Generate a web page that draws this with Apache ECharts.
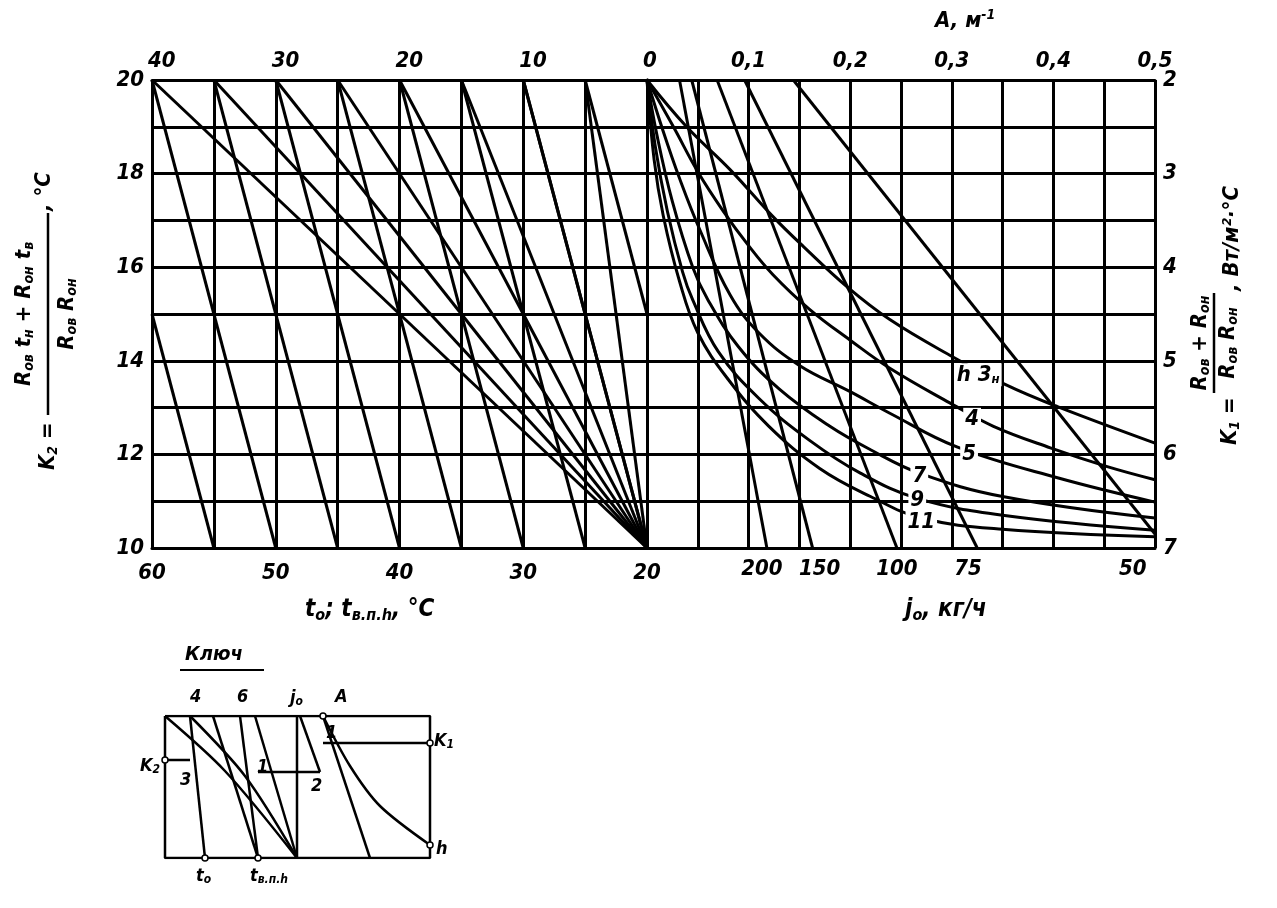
<!DOCTYPE html>
<html><head><meta charset="utf-8">
<script src="https://cdn.jsdelivr.net/npm/echarts@6/dist/echarts.min.js"></script>
<style>html,body{margin:0;padding:0;background:#fff}#c{width:1277px;height:908px}</style>
</head><body><div id="c"></div>
<script>
// ---------- DATA ----------
// left half: x = t (bottom scale, °C), y = K2 (°C)
const bottomTTicks = [60, 50, 40, 30, 20];
const topTTicks = [40, 30, 20, 10, 0];
const k2Ticks = [20, 18, 16, 14, 12, 10];
// steep lines: [t at start, K2 at start, t at end, K2 at end]
const steepLines = [
  [60, 15, 55, 10], [60, 20, 50, 10], [55, 20, 45, 10], [50, 20, 40, 10], [45, 20, 35, 10],
  [40, 20, 30, 10], [35, 20, 25, 10], [30, 20, 20, 10], [25, 20, 20, 15]
];
const fanTopT = [60, 55, 50, 45, 40, 35, 30, 25];
const fanEnd = [20, 10];
// right half: x = A (1/m), y = K1
const aTicks = [0.1, 0.2, 0.3, 0.4, 0.5];
const k1Ticks = [2, 3, 4, 5, 6, 7];
const j0Values  = ['200', '150', '100', '75', '50'];
const j0TopA    = [0.032, 0.044, 0.069, 0.096, 0.144];
const j0BottomA = [0.118, 0.163, 0.246, 0.325, 0.500];
const j0BottomK1 = [7, 7, 7, 7, 6.85];
const j0LabelA  = [0.113, 0.170, 0.246, 0.316, 0.478];
const hNames = ['3', '4', '5', '7', '9', '11'];
const hCurve3  = [[0,2],[0.039,2.5],[0.082,2.96],[0.124,3.46],[0.154,3.78],[0.197,4.21],[0.239,4.56],[0.298,4.94],[0.354,5.26],[0.404,5.49],[0.5,5.88]];
const hCurve4  = [[0,2],[0.026,2.5],[0.05,2.98],[0.075,3.4],[0.1,3.77],[0.124,4.08],[0.16,4.45],[0.2,4.78],[0.239,5.08],[0.298,5.45],[0.341,5.7],[0.397,5.93],[0.453,6.13],[0.5,6.27]];
const hCurve5  = [[0,2],[0.016,2.55],[0.032,3.05],[0.052,3.6],[0.082,4.3],[0.11,4.7],[0.15,5.05],[0.2,5.33],[0.239,5.56],[0.305,5.92],[0.404,6.25],[0.5,6.51]];
const hCurve7  = [[0,2],[0.01,2.6],[0.025,3.3],[0.045,4.0],[0.06,4.35],[0.09,4.85],[0.13,5.3],[0.18,5.7],[0.22,5.95],[0.268,6.2],[0.35,6.45],[0.5,6.68]];
const hCurve9  = [[0,2],[0.008,2.7],[0.02,3.4],[0.035,4.05],[0.045,4.35],[0.07,4.9],[0.11,5.4],[0.16,5.85],[0.21,6.2],[0.266,6.47],[0.35,6.65],[0.5,6.81]];
const hCurve11 = [[0,2],[0.007,2.85],[0.016,3.45],[0.032,4.15],[0.05,4.7],[0.08,5.2],[0.12,5.7],[0.17,6.15],[0.22,6.45],[0.27,6.68],[0.35,6.8],[0.5,6.88]];
const hLabelPos = [[0.326,5.15],[0.32,5.62],[0.317,6.0],[0.268,6.23],[0.266,6.49],[0.27,6.72]];
// key inset: x 0..265, y 0..142 (from top)
const keyBox = [[0,0],[265,0],[265,142],[0,142],[0,0]];
const keyLines = [
  [[25,0],[40,142]],
  [[48,0],[93,142]],
  [[75,0],[93,142]],
  [[90,0],[132,142]],
  [[0,0],[60,55],[132,142]],
  [[25,0],[80,60],[132,142]],
  [[132,0],[132,142]],
  [[0,44],[25,44]],
  [[93,56],[155,56]],
  [[158,27],[265,27]],
  [[158,0],[205,142]],
  [[158,0],[185,50],[215,90],[265,129]],
  [[135,0],[155,56]]
];
const keyDots = [[158,0],[265,27],[0,44],[40,142],[93,142],[265,129]];

// ---------- CHART ----------
const FONT = "'Liberation Sans Narrow','DejaVu Sans Condensed','Liberation Sans',sans-serif";
const lab = {color:'#000', fontFamily:FONT, fontStyle:'italic', fontWeight:'bold', fontSize:22};
const blk = {color:'#000', width:3};

function line(data, xi, yi, w, sm) {
  return {type:'line', xAxisIndex:xi, yAxisIndex:yi, data:data, showSymbol:false, silent:true,
          smooth:sm || false, clip:true, lineStyle:{color:'#000', width:w||3}, z:5};
}
const series = [];
steepLines.forEach(s => series.push(line([[s[0],s[1]],[s[2],s[3]]],0,0)));
fanTopT.forEach(t => series.push(line([[t,20],fanEnd],0,0)));
for (let i = 0; i < j0TopA.length; i++) series.push(line([[j0TopA[i],2],[j0BottomA[i],j0BottomK1[i]]],2,2));
[hCurve3,hCurve4,hCurve5,hCurve7,hCurve9,hCurve11].forEach(c => series.push(line(c,2,2,3,0.4)));
// j0 bottom labels
series.push({type:'scatter', xAxisIndex:2, yAxisIndex:2, symbolSize:0, silent:true, itemStyle:{opacity:1},
  data:j0LabelA.map((a,i)=>({value:[a,7], label:{show:true, position:'bottom', distance:10, formatter:j0Values[i], ...lab}}))});
// h labels
series.push({type:'scatter', xAxisIndex:2, yAxisIndex:2, symbolSize:0, silent:true, z:10, itemStyle:{opacity:1},
  data:hLabelPos.map((p,i)=>({value:p, label:{show:true, position:'inside', backgroundColor:'#fff', padding:[0,2],
     formatter: i===0 ? '{a|h} {b|3}{c|н}' : hNames[i], ...lab,
     rich:{a:{...lab},b:{...lab},c:{...lab,fontSize:13,padding:[10,0,0,0]}}}}))});
// key inset
series.push(line(keyBox,4,3,2.5));
keyLines.forEach(l => series.push(line(l,4,3,2.5,0.3)));
series.push({type:'scatter', xAxisIndex:4, yAxisIndex:3, data:keyDots, symbol:'circle', symbolSize:6,
  itemStyle:{color:'#fff', borderColor:'#000', borderWidth:1.5, opacity:1}, silent:true, z:10});

const splitBlack = {show:true, lineStyle:{color:'#000', width:3}};
const option = {
  animation:false, backgroundColor:'#fff',
  grid:[
    {left:152, top:80, width:495, height:468},
    {left:647, top:80, width:508, height:468},
    {left:165, top:716, width:265, height:142}
  ],
  xAxis:[
    {gridIndex:0, type:'value', min:20, max:60, inverse:true, interval:5, position:'bottom',
     axisLine:{lineStyle:blk}, axisTick:{show:false}, splitLine:splitBlack,
     axisLabel:{...lab, margin:14, formatter:v => bottomTTicks.includes(v) ? String(v) : ''}},
    {gridIndex:0, type:'value', min:0, max:40, inverse:true, interval:10, position:'top',
     axisLine:{lineStyle:blk}, axisTick:{show:false}, splitLine:{show:false},
     axisLabel:{...lab, margin:8, align:'left', padding:[0,0,0,-4], formatter:v => topTTicks.includes(v) ? String(v) : ''}},
    {gridIndex:1, type:'value', min:0, max:0.5, interval:0.05, position:'bottom',
     axisLine:{lineStyle:blk}, axisTick:{show:false}, splitLine:splitBlack, axisLabel:{show:false}},
    {gridIndex:1, type:'value', min:0, max:0.5, interval:0.1, position:'top',
     axisLine:{lineStyle:blk}, axisTick:{show:false}, splitLine:{show:false},
     axisLabel:{...lab, margin:8, formatter:v => aTicks.some(a=>Math.abs(a-v)<1e-9) ? v.toFixed(1).replace('.',',') : ''}},
    {gridIndex:2, type:'value', min:0, max:265, show:false}
  ],
  yAxis:[
    {gridIndex:0, type:'value', min:10, max:20, interval:1, axisLine:{show:true, lineStyle:blk}, axisTick:{show:false},
     splitLine:splitBlack, axisLabel:{...lab, margin:8, formatter:v => k2Ticks.includes(v) ? String(v) : ''}},
    {gridIndex:1, type:'value', min:10, max:20, interval:1, axisLine:{show:false}, axisTick:{show:false},
     splitLine:splitBlack, axisLabel:{show:false}},
    {gridIndex:1, type:'value', min:2, max:7, interval:1, inverse:true, position:'right',
     axisLine:{show:true, lineStyle:blk}, axisTick:{show:false}, splitLine:{show:false},
     axisLabel:{...lab, margin:8, formatter:v => k1Ticks.includes(v) ? String(v) : ''}},
    {gridIndex:2, type:'value', min:0, max:142, inverse:true, show:false}
  ],
  series:series,
  graphic:[]
};

// ---------- TEXT (titles) ----------
const sub = `italic bold 14px ${FONT}`;
const big = `italic bold 22px ${FONT}`;
const g = option.graphic;
// left title (rotated)
g.push({type:'group', x:48, y:470, rotation:Math.PI/2, children:[
  {type:'text', x:0, y:0, style:{rich:{k:{font:big}, s:{font:sub, padding:[10,0,0,0]}}, text:'{k|K}{s|2}{k| =}', fill:'#000', verticalAlign:'middle', align:'left'}},
  {type:'line', shape:{x1:55, y1:0, x2:257, y2:0}, style:{stroke:'#000', lineWidth:2.5}},
  {type:'text', x:156, y:-24, style:{rich:{k:{font:big}, s:{font:sub, padding:[10,0,0,0]}}, text:'{k|R}{s|ов}{k| t}{s|н}{k| + R}{s|он}{k| t}{s|в}', fill:'#000', verticalAlign:'middle', align:'center'}},
  {type:'text', x:156, y:19, style:{rich:{k:{font:big}, s:{font:sub, padding:[10,0,0,0]}}, text:'{k|R}{s|ов}{k| R}{s|он}', fill:'#000', verticalAlign:'middle', align:'center'}},
  {type:'text', x:259, y:-4, style:{text:', °C', font:big, fill:'#000', verticalAlign:'middle', align:'left'}}
]});
// right title (rotated)
g.push({type:'group', x:1214, y:445, rotation:Math.PI/2, children:[
  {type:'text', x:0, y:16, style:{rich:{k:{font:big}, s:{font:sub, padding:[10,0,0,0]}}, text:'{k|K}{s|1}{k| =}', fill:'#000', verticalAlign:'middle', align:'left'}},
  {type:'line', shape:{x1:52, y1:0, x2:152, y2:0}, style:{stroke:'#000', lineWidth:2.5}},
  {type:'text', x:102, y:-14, style:{rich:{k:{font:big}, s:{font:sub, padding:[10,0,0,0]}}, text:'{k|R}{s|ов}{k| + R}{s|он}', fill:'#000', verticalAlign:'middle', align:'center'}},
  {type:'text', x:102, y:14, style:{rich:{k:{font:big}, s:{font:sub, padding:[10,0,0,0]}}, text:'{k|R}{s|ов}{k| R}{s|он}', fill:'#000', verticalAlign:'middle', align:'center'}},
  {type:'text', x:154, y:18, style:{text:', Вт/м²·°C', font:big, fill:'#000', verticalAlign:'middle', align:'left'}}
]});
// top title
g.push({type:'text', x:935, y:8, silent:true, style:{rich:{k:{font:big}, s:{font:sub, padding:[0,0,12,0]}}, text:'{k|A, м}{s|-1}', fill:'#000'}});
// bottom titles
g.push({type:'text', x:305, y:596, silent:true, style:{rich:{k:{font:`italic bold 24px ${FONT}`}, s:{font:`italic bold 16px ${FONT}`, padding:[12,0,0,0]}}, text:'{k|t}{s|o}{k|; t}{s|в.п.h}{k|, °C}', fill:'#000'}});
g.push({type:'text', x:905, y:596, silent:true, style:{rich:{k:{font:`italic bold 24px ${FONT}`}, s:{font:`italic bold 16px ${FONT}`, padding:[12,0,0,0]}}, text:'{k|j}{s|o}{k|, кг/ч}', fill:'#000'}});
// key
g.push({type:'text', x:185, y:645, silent:true, style:{text:'Ключ', font:`italic bold 20px ${FONT}`, fill:'#000'}});
g.push({type:'line', silent:true, shape:{x1:180, y1:670, x2:264, y2:670}, style:{stroke:'#000', lineWidth:2}});
const keyText = [
  [190,688,'4'],[237,688,'6'],[335,688,'A'],[326,724,'1'],[180,771,'3'],[257,758,'1'],[311,777,'2'],[436,840,'h']
];
keyText.forEach(k => g.push({type:'text', x:k[0], y:k[1], silent:true, style:{text:k[2], font:`italic bold 18px ${FONT}`, fill:'#000'}}));
const kr = {k:{font:`italic bold 18px ${FONT}`}, s:{font:`italic bold 12px ${FONT}`, padding:[8,0,0,0]}};
g.push({type:'text', x:290, y:688, silent:true, style:{rich:kr, text:'{k|j}{s|o}', fill:'#000'}});
g.push({type:'text', x:434, y:731, silent:true, style:{rich:kr, text:'{k|K}{s|1}', fill:'#000'}});
g.push({type:'text', x:140, y:756, silent:true, style:{rich:kr, text:'{k|K}{s|2}', fill:'#000'}});
g.push({type:'text', x:196, y:866, silent:true, style:{rich:kr, text:'{k|t}{s|o}', fill:'#000'}});
g.push({type:'text', x:250, y:866, silent:true, style:{rich:kr, text:'{k|t}{s|в.п.h}', fill:'#000'}});

const chart = echarts.init(document.getElementById('c'), null, {renderer:'canvas'});
chart.setOption(option);
</script>
</body></html>
